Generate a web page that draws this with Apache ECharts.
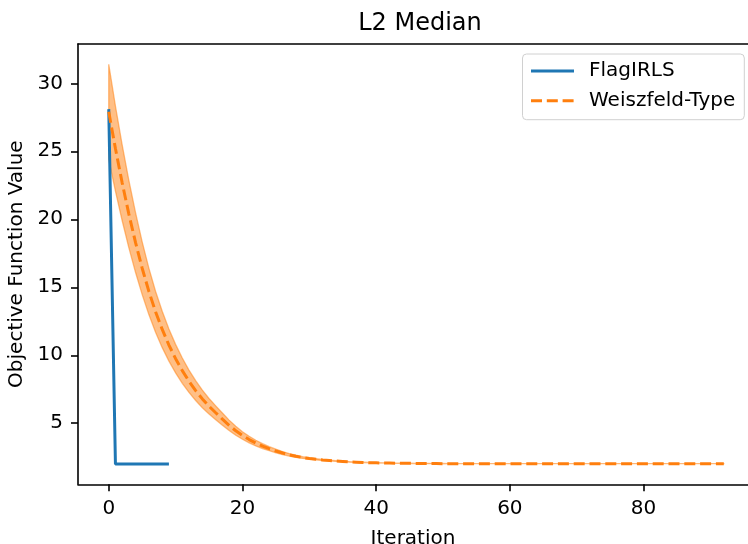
<!DOCTYPE html>
<html><head><meta charset="utf-8">
<script src="https://cdn.jsdelivr.net/npm/echarts@6/dist/echarts.min.js"></script>
<style>html,body{margin:0;padding:0;background:#fff}#c{width:748px;height:544px}</style>
</head><body><div id="c"></div>
<script>
// FlagIRLS objective values per iteration (0..9)
const flagValues = [28.1, 2.01, 2.01, 2.01, 2.01, 2.01, 2.01, 2.01, 2.01, 2.01];
// Weiszfeld-Type mean objective values per iteration (0..92)
const weiszMean = [
  27.9, 25.2, 22.7, 20.4, 18.3, 16.4, 14.7, 13.2, 11.9, 10.75,
  9.75, 8.87, 8.09, 7.40, 6.79, 6.25, 5.77, 5.30, 4.85, 4.45,
  4.10, 3.80, 3.54, 3.32, 3.13, 2.96, 2.81, 2.68, 2.57, 2.48,
  2.41, 2.35, 2.30, 2.26, 2.22, 2.19, 2.16, 2.14, 2.12, 2.10,
  2.09, 2.08, 2.07, 2.06, 2.055, 2.05, 2.045, 2.04, 2.04, 2.035,
  2.03, 2.03, 2.03, 2.03, 2.03, 2.03, 2.03, 2.03, 2.03, 2.03,
  2.03, 2.03, 2.03, 2.03, 2.03, 2.03, 2.03, 2.03, 2.03, 2.03,
  2.03, 2.03, 2.03, 2.03, 2.03, 2.03, 2.03, 2.03, 2.03, 2.03,
  2.03, 2.03, 2.03, 2.03, 2.03, 2.03, 2.03, 2.03, 2.03, 2.03,
  2.03, 2.03, 2.03
];
// Weiszfeld-Type spread (half-width of shaded band) per iteration
const weiszStd = [
  3.5, 3.13, 2.79, 2.48, 2.2, 1.94, 1.71, 1.51, 1.34, 1.18,
  1.05, 0.93, 0.82, 0.73, 0.65, 0.57, 0.51, 0.45, 0.38, 0.33,
  0.28, 0.24, 0.21, 0.18, 0.15, 0.13, 0.11, 0.09, 0.08, 0.065,
  0.055, 0.047, 0.04, 0.034, 0.03, 0.026, 0.022, 0.019, 0.016, 0.014,
  0.012, 0.01, 0.01, 0.01, 0.01, 0.01, 0.01, 0.01, 0.01, 0.01,
  0.01, 0.005, 0.005, 0.005, 0.005, 0.005, 0.005, 0.005, 0.005, 0.005,
  0.005, 0.005, 0.005, 0.005, 0.005, 0.005, 0.005, 0.005, 0.005, 0.005,
  0.005, 0.005, 0.005, 0.005, 0.005, 0.005, 0.005, 0.005, 0.005, 0.005,
  0.005, 0.005, 0.005, 0.005, 0.005, 0.005, 0.005, 0.005, 0.005, 0.005,
  0.005, 0.005, 0.005
];
const xTicks = [0, 20, 40, 60, 80];
const yTicks = [5, 10, 15, 20, 25, 30];

const FONT = 'DejaVu Sans';
const flagData = flagValues.map((v, i) => [i, v]);
const weiszData = weiszMean.map((v, i) => [i, v]);
const X_MIN = -4.6, X_MAX = 95.62, Y_MIN = 0.51, Y_MAX = 32.89;

const chart = echarts.init(document.getElementById('c'), null, {renderer: 'canvas'});
chart.setOption({
  animation: false,
  backgroundColor: '#fff',
  title: {
    text: 'L2 Median', left: 415, top: 7, textAlign: 'center',
    textStyle: {fontFamily: FONT, fontSize: 24, fontWeight: 'normal', color: '#000'}
  },
  grid: {left: 78, right: 0, top: 44, bottom: 59.7, show: false, containLabel: false, outerBoundsMode: 'none'},
  legend: {
    data: ['FlagIRLS', 'Weiszfeld-Type'],
    orient: 'vertical', right: 3.7, top: 54,
    itemWidth: 43, itemHeight: 20, itemGap: 9.7,
    padding: [7, 9, 9, 7],
    borderColor: '#d0d0d0', borderWidth: 1, borderRadius: 4,
    backgroundColor: 'rgba(255,255,255,0.8)',
    itemStyle: {opacity: 0},
    lineStyle: {width: 3},
    textStyle: {fontFamily: FONT, fontSize: 20, color: '#000', padding: [0, 0, 0, 10], lineHeight: 20}
  },
  xAxis: [{
    type: 'value', min: X_MIN, max: X_MAX,
    name: 'Iteration', nameLocation: 'middle', nameGap: 44,
    nameTextStyle: {fontFamily: FONT, fontSize: 20, color: '#000'},
    axisLine: {show: true, onZero: false, lineStyle: {color: '#000', width: 1.6}},
    axisTick: {show: true, length: 7, lineStyle: {color: '#000', width: 1.6}, customValues: xTicks},
    axisLabel: {fontFamily: FONT, fontSize: 20, color: '#000', margin: 14, customValues: xTicks},
    splitLine: {show: false}
  }, {
    type: 'value', position: 'top', min: X_MIN, max: X_MAX,
    axisLine: {show: true, onZero: false, lineStyle: {color: '#000', width: 1.6}},
    axisTick: {show: false}, axisLabel: {show: false}, splitLine: {show: false}
  }],
  yAxis: {
    type: 'value', min: Y_MIN, max: Y_MAX,
    name: 'Objective Function Value', nameLocation: 'middle', nameGap: 51, nameRotate: 90,
    nameTextStyle: {fontFamily: FONT, fontSize: 20, color: '#000'},
    axisLine: {show: true, onZero: false, lineStyle: {color: '#000', width: 1.6}},
    axisTick: {show: true, length: 7, lineStyle: {color: '#000', width: 1.6}, customValues: yTicks},
    axisLabel: {fontFamily: FONT, fontSize: 20, color: '#000', margin: 15, customValues: yTicks},
    splitLine: {show: false}
  },
  series: [
    {
      name: 'band', type: 'custom', z: 1, silent: true,
      data: [[0, weiszMean[0]]],
      renderItem: function (params, api) {
        const pts = [];
        for (let i = 0; i < weiszMean.length; i++) pts.push(api.coord([i, weiszMean[i] + weiszStd[i]]));
        for (let i = weiszMean.length - 1; i >= 0; i--) pts.push(api.coord([i, weiszMean[i] - weiszStd[i]]));
        return {type: 'polygon', shape: {points: pts},
          style: {fill: 'rgba(255,127,14,0.5)', stroke: 'rgba(255,127,14,0.5)', lineWidth: 1.3}};
      }
    },
    {
      name: 'FlagIRLS', type: 'line', z: 2, data: flagData, symbol: 'none',
      itemStyle: {color: '#1f77b4'},
      lineStyle: {color: '#1f77b4', width: 3}
    },
    {
      name: 'Weiszfeld-Type', type: 'line', z: 3, data: weiszData, symbol: 'none',
      itemStyle: {color: '#ff7f0e'},
      lineStyle: {color: '#ff7f0e', width: 3, type: [11, 4.8]}
    }
  ]
});
</script>
</body></html>
